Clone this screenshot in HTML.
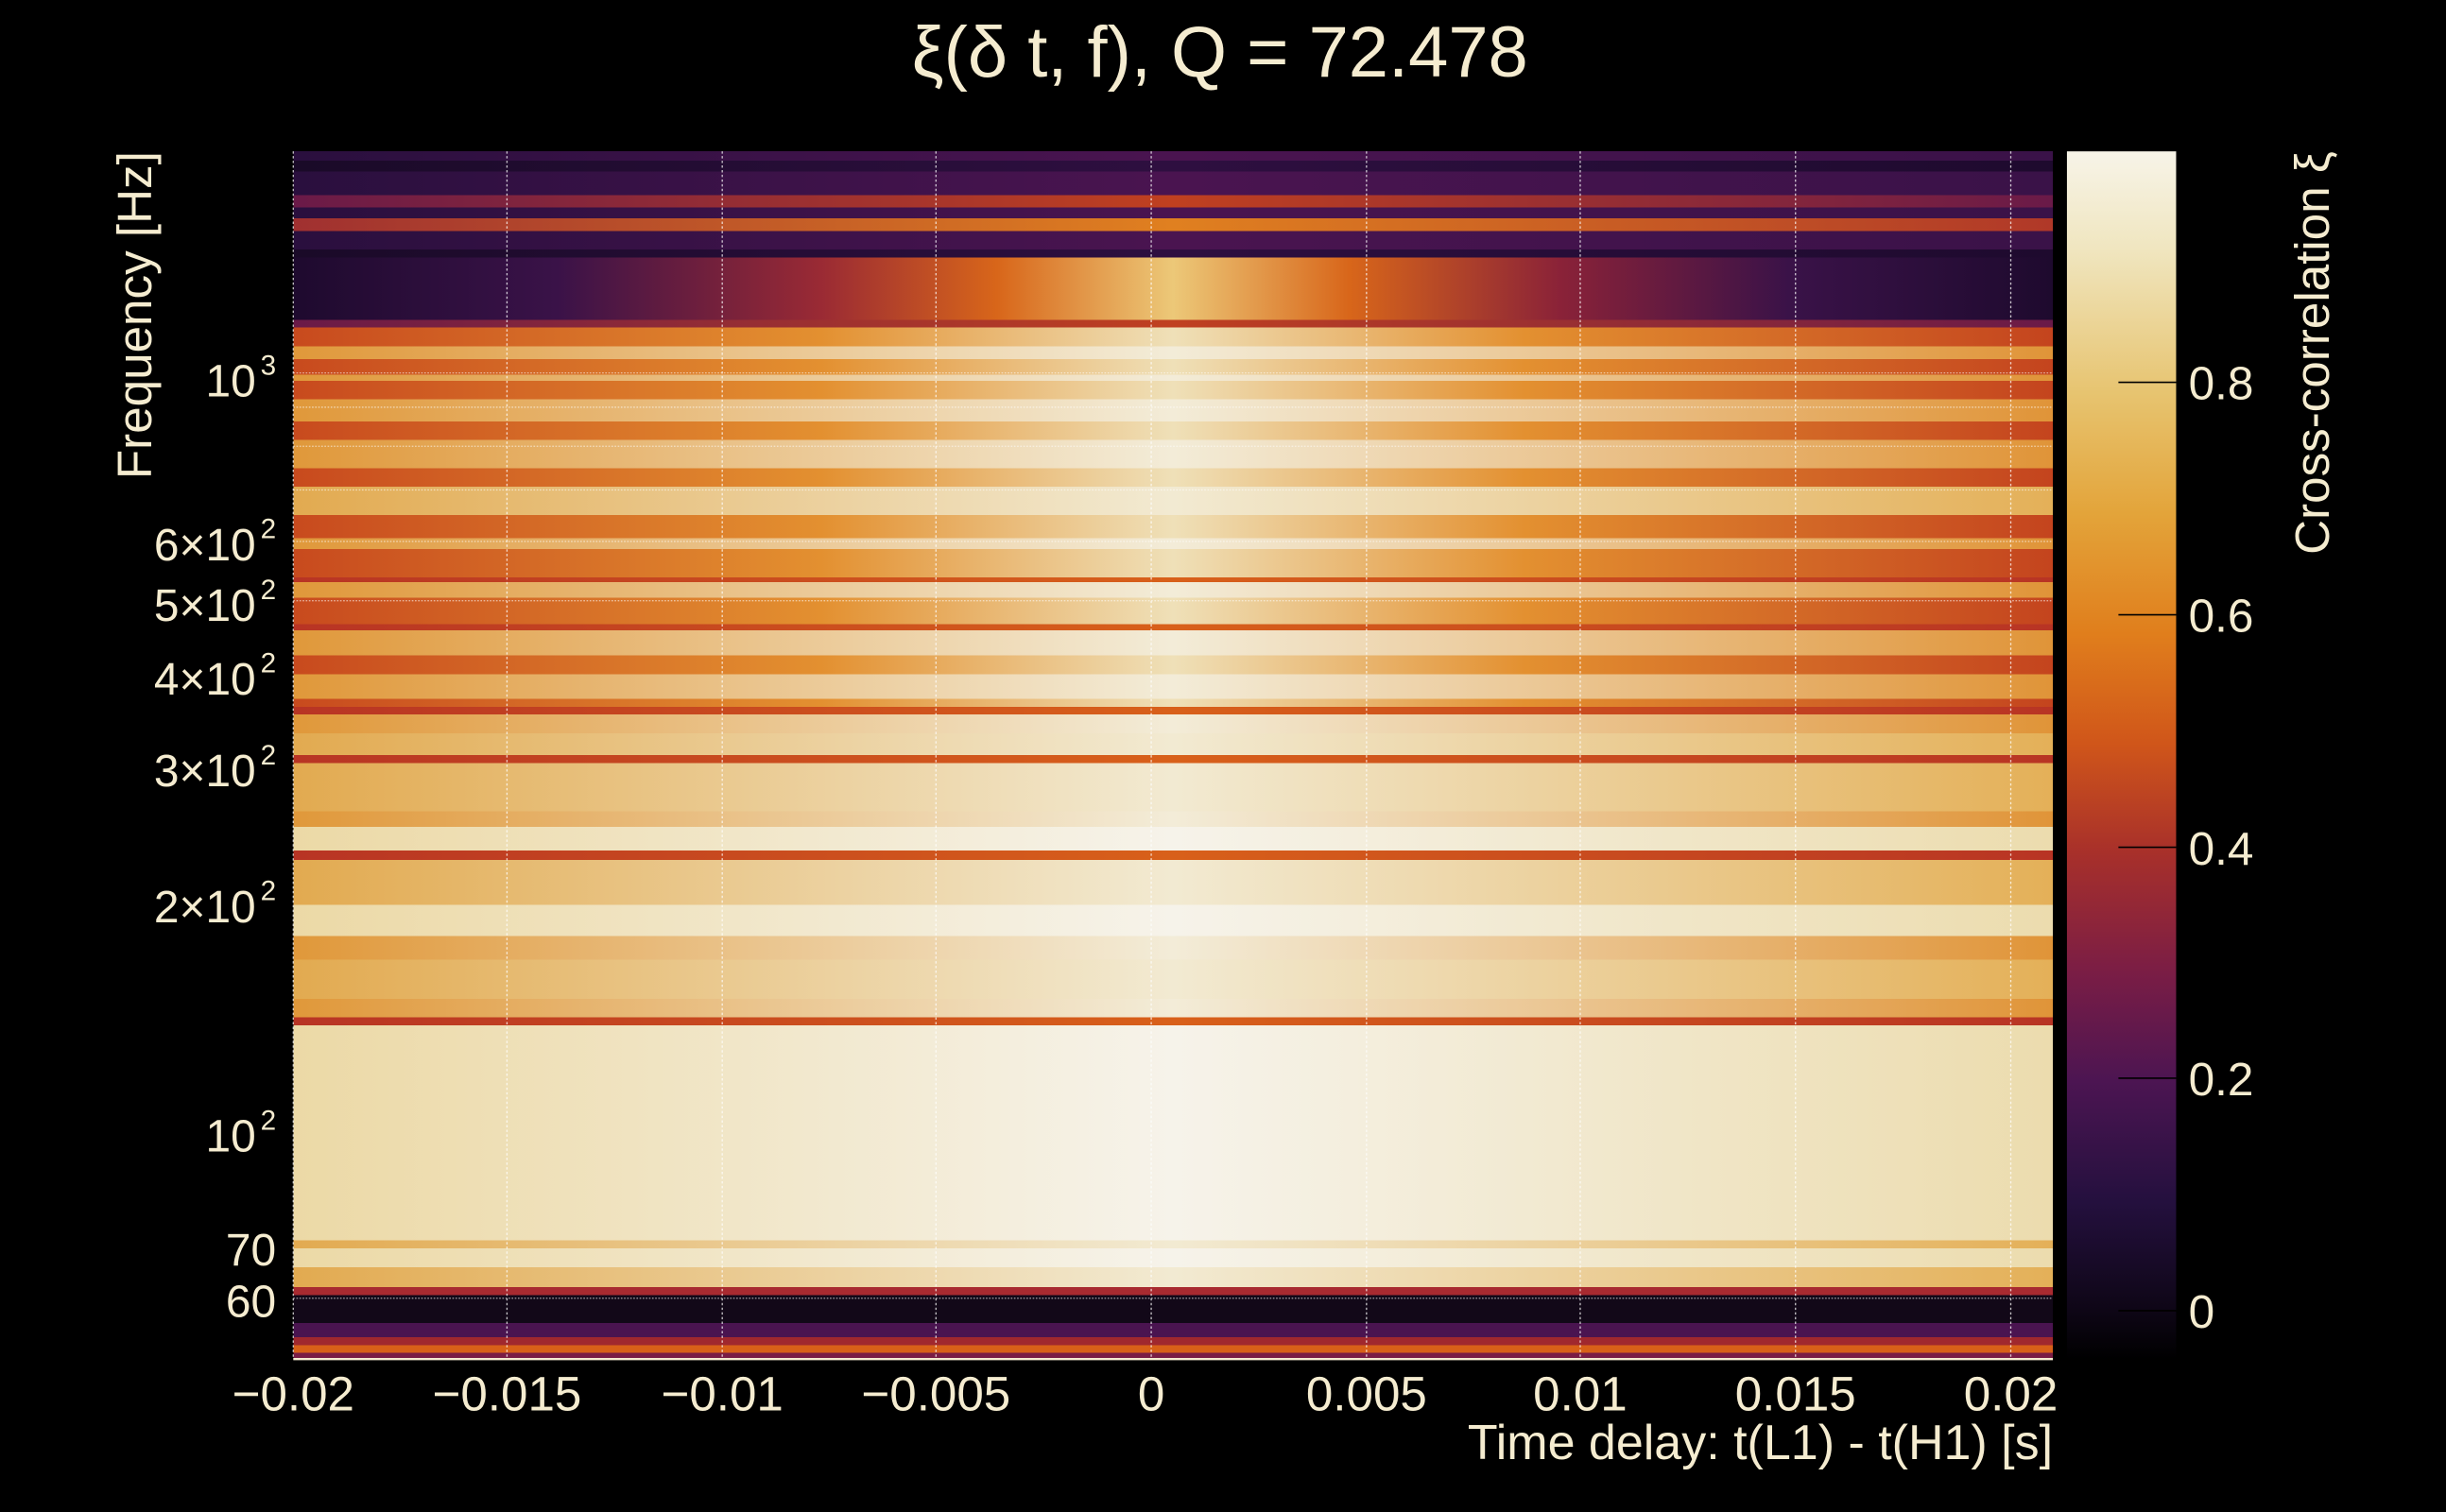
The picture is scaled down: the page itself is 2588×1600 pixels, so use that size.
<!DOCTYPE html>
<html><head><meta charset="utf-8"><style>
html,body{margin:0;padding:0;background:#000;}
svg{display:block;}
text{font-family:"Liberation Sans",sans-serif;fill:#f5ecd0;}
</style></head><body>
<svg width="2588" height="1600" viewBox="0 0 1568 969" preserveAspectRatio="none" xmlns="http://www.w3.org/2000/svg">
<defs>
<linearGradient id="gP" x1="0" x2="1"><stop offset="0" stop-color="#2a0f3e"/><stop offset="0.5" stop-color="#4a1450"/><stop offset="1" stop-color="#3a1248"/></linearGradient>
<linearGradient id="gD" x1="0" x2="1"><stop offset="0" stop-color="#1a0a28"/><stop offset="0.5" stop-color="#2e0f40"/><stop offset="1" stop-color="#1e0a2e"/></linearGradient>
<linearGradient id="gBlob" x1="0" x2="1"><stop offset="0" stop-color="#1e0a2e"/><stop offset="0.15" stop-color="#3a1248"/><stop offset="0.3" stop-color="#9a2a34"/><stop offset="0.4" stop-color="#d8661a"/><stop offset="0.5" stop-color="#ecc878"/><stop offset="0.6" stop-color="#d8661a"/><stop offset="0.72" stop-color="#8a2238"/><stop offset="0.85" stop-color="#3a1248"/><stop offset="1" stop-color="#1e0a2e"/></linearGradient>
<linearGradient id="gRT" x1="0" x2="1"><stop offset="0" stop-color="#a03030"/><stop offset="0.5" stop-color="#e08020"/><stop offset="1" stop-color="#b03828"/></linearGradient>
<linearGradient id="gRP" x1="0" x2="1"><stop offset="0" stop-color="#6a1a48"/><stop offset="0.5" stop-color="#c04020"/><stop offset="1" stop-color="#6a1a48"/></linearGradient>
<linearGradient id="gO1" x1="0" x2="1"><stop offset="0" stop-color="#c84a1e"/><stop offset="0.3" stop-color="#e39030"/><stop offset="0.5" stop-color="#efe0b8"/><stop offset="0.7" stop-color="#e39030"/><stop offset="1" stop-color="#c4441e"/></linearGradient>
<linearGradient id="gO2" x1="0" x2="1"><stop offset="0" stop-color="#e0983a"/><stop offset="0.5" stop-color="#f3ecd8"/><stop offset="1" stop-color="#e09438"/></linearGradient>
<linearGradient id="gC" x1="0" x2="1"><stop offset="0" stop-color="#ecd9a6"/><stop offset="0.5" stop-color="#f6f3ea"/><stop offset="1" stop-color="#ecdcae"/></linearGradient>
<linearGradient id="gC2" x1="0" x2="1"><stop offset="0" stop-color="#e2aa50"/><stop offset="0.5" stop-color="#f2ead2"/><stop offset="1" stop-color="#e4b058"/></linearGradient>
<linearGradient id="gL" x1="0" x2="1"><stop offset="0" stop-color="#b83424"/><stop offset="0.5" stop-color="#d8601a"/><stop offset="1" stop-color="#b83424"/></linearGradient>
<linearGradient id="cb" x1="0" y1="0" x2="0" y2="1">
<stop offset="0" stop-color="#f7f4e8"/>
<stop offset="0.08" stop-color="#f0e6c0"/>
<stop offset="0.2" stop-color="#e7c470"/>
<stop offset="0.3" stop-color="#e3a43a"/>
<stop offset="0.4" stop-color="#e07e1c"/>
<stop offset="0.49" stop-color="#d0561a"/>
<stop offset="0.58" stop-color="#a8302a"/>
<stop offset="0.68" stop-color="#7a1d45"/>
<stop offset="0.77" stop-color="#4c1552"/>
<stop offset="0.87" stop-color="#24103e"/>
<stop offset="0.96" stop-color="#0e0616"/>
<stop offset="1" stop-color="#000"/>
</linearGradient>
</defs>
<g shape-rendering="crispEdges">
<rect x="188" y="97" width="1128" height="6" fill="url(#gP)"/>
<rect x="188" y="103" width="1128" height="7" fill="url(#gD)"/>
<rect x="188" y="110" width="1128" height="15" fill="url(#gP)"/>
<rect x="188" y="125" width="1128" height="8" fill="url(#gRP)"/>
<rect x="188" y="133" width="1128" height="7" fill="url(#gP)"/>
<rect x="188" y="140" width="1128" height="8" fill="url(#gRT)"/>
<rect x="188" y="148" width="1128" height="12" fill="url(#gP)"/>
<rect x="188" y="160" width="1128" height="5" fill="url(#gD)"/>
<rect x="188" y="165" width="1128" height="40" fill="url(#gBlob)"/>
<rect x="188" y="205" width="1128" height="5" fill="url(#gRP)"/>
<rect x="188" y="210" width="1128" height="12" fill="url(#gO1)"/>
<rect x="188" y="222" width="1128" height="8" fill="url(#gO2)"/>
<rect x="188" y="230" width="1128" height="10" fill="url(#gO1)"/>
<rect x="188" y="240" width="1128" height="4" fill="url(#gO2)"/>
<rect x="188" y="244" width="1128" height="12" fill="url(#gO1)"/>
<rect x="188" y="256" width="1128" height="14" fill="url(#gO2)"/>
<rect x="188" y="270" width="1128" height="12" fill="url(#gO1)"/>
<rect x="188" y="282" width="1128" height="18" fill="url(#gO2)"/>
<rect x="188" y="300" width="1128" height="12" fill="url(#gO1)"/>
<rect x="188" y="312" width="1128" height="18" fill="url(#gC2)"/>
<rect x="188" y="330" width="1128" height="15" fill="url(#gO1)"/>
<rect x="188" y="345" width="1128" height="7" fill="url(#gO2)"/>
<rect x="188" y="352" width="1128" height="18" fill="url(#gO1)"/>
<rect x="188" y="370" width="1128" height="3" fill="url(#gL)"/>
<rect x="188" y="373" width="1128" height="10" fill="url(#gO2)"/>
<rect x="188" y="383" width="1128" height="17" fill="url(#gO1)"/>
<rect x="188" y="400" width="1128" height="4" fill="url(#gL)"/>
<rect x="188" y="404" width="1128" height="16" fill="url(#gO2)"/>
<rect x="188" y="420" width="1128" height="12" fill="url(#gO1)"/>
<rect x="188" y="432" width="1128" height="16" fill="url(#gO2)"/>
<rect x="188" y="448" width="1128" height="5" fill="url(#gO1)"/>
<rect x="188" y="453" width="1128" height="5" fill="url(#gL)"/>
<rect x="188" y="458" width="1128" height="12" fill="url(#gO2)"/>
<rect x="188" y="470" width="1128" height="14" fill="url(#gC2)"/>
<rect x="188" y="484" width="1128" height="5" fill="url(#gL)"/>
<rect x="188" y="489" width="1128" height="31" fill="url(#gC2)"/>
<rect x="188" y="520" width="1128" height="10" fill="url(#gO2)"/>
<rect x="188" y="530" width="1128" height="15" fill="url(#gC)"/>
<rect x="188" y="545" width="1128" height="6" fill="url(#gL)"/>
<rect x="188" y="551" width="1128" height="29" fill="url(#gC2)"/>
<rect x="188" y="580" width="1128" height="20" fill="url(#gC)"/>
<rect x="188" y="600" width="1128" height="15" fill="url(#gO2)"/>
<rect x="188" y="615" width="1128" height="25" fill="url(#gC2)"/>
<rect x="188" y="640" width="1128" height="12" fill="url(#gO2)"/>
<rect x="188" y="652" width="1128" height="5" fill="url(#gL)"/>
<rect x="188" y="657" width="1128" height="138" fill="url(#gC)"/>
<rect x="188" y="795" width="1128" height="5" fill="url(#gC2)"/>
<rect x="188" y="800" width="1128" height="12" fill="url(#gC)"/>
<rect x="188" y="812" width="1128" height="13" fill="url(#gC2)"/>
<rect x="188" y="825" width="1128" height="5" fill="#a82a30"/>
<rect x="188" y="830" width="1128" height="18" fill="#120818"/>
<rect x="188" y="848" width="1128" height="9" fill="#4a1450"/>
<rect x="188" y="857" width="1128" height="5" fill="#a0282e"/>
<rect x="188" y="862" width="1128" height="5" fill="#d86018"/>
<rect x="188" y="867" width="1128" height="4" fill="#7a1d45"/>
</g>
<g stroke="#ffffff" stroke-width="0.8" stroke-dasharray="1.5,1.5" opacity="0.75">
<line x1="188" y1="97" x2="188" y2="871"/><line x1="325" y1="97" x2="325" y2="871"/><line x1="463" y1="97" x2="463" y2="871"/><line x1="600" y1="97" x2="600" y2="871"/><line x1="738" y1="97" x2="738" y2="871"/><line x1="876" y1="97" x2="876" y2="871"/><line x1="1013" y1="97" x2="1013" y2="871"/><line x1="1151" y1="97" x2="1151" y2="871"/><line x1="1289" y1="97" x2="1289" y2="871"/>
</g>
<g stroke="#ffffff" stroke-width="0.8" stroke-dasharray="1,1" opacity="0.55">
<line x1="188" y1="239" x2="1316" y2="239"/><line x1="188" y1="261" x2="1316" y2="261"/><line x1="188" y1="286" x2="1316" y2="286"/><line x1="188" y1="314" x2="1316" y2="314"/><line x1="188" y1="347" x2="1316" y2="347"/><line x1="188" y1="385" x2="1316" y2="385"/><line x1="188" y1="832" x2="1316" y2="832"/>
</g>
<line x1="188" y1="871" x2="1316" y2="871" stroke="#f5ecd0" stroke-width="1.5"/>
<rect x="1325" y="97" width="70" height="774" fill="url(#cb)"/>
<g stroke="#000" stroke-width="1"><line x1="1358" y1="245" x2="1395" y2="245"/><line x1="1358" y1="394" x2="1395" y2="394"/><line x1="1358" y1="543" x2="1395" y2="543"/><line x1="1358" y1="691" x2="1395" y2="691"/><line x1="1358" y1="840" x2="1395" y2="840"/></g>
<text x="782" y="49" font-size="46" text-anchor="middle">ξ(δ t, f), Q = 72.478</text>
<g font-size="31" text-anchor="middle">
<text x="188" y="904">−0.02</text><text x="325" y="904">−0.015</text><text x="463" y="904">−0.01</text><text x="600" y="904">−0.005</text><text x="738" y="904">0</text><text x="876" y="904">0.005</text><text x="1013" y="904">0.01</text><text x="1151" y="904">0.015</text><text x="1289" y="904">0.02</text>
</g>
<text x="1316" y="935" font-size="31.5" text-anchor="end">Time delay: t(L1) - t(H1) [s]</text>
<g font-size="29" text-anchor="end">
<text x="164" y="254">10</text><text x="177" y="240" font-size="18">3</text>
<text x="164" y="359">6×10</text><text x="177" y="345" font-size="18">2</text>
<text x="164" y="398">5×10</text><text x="177" y="384" font-size="18">2</text>
<text x="164" y="445">4×10</text><text x="177" y="431" font-size="18">2</text>
<text x="164" y="504">3×10</text><text x="177" y="490" font-size="18">2</text>
<text x="164" y="591">2×10</text><text x="177" y="577" font-size="18">2</text>
<text x="164" y="738">10</text><text x="177" y="724" font-size="18">2</text>
<text x="177" y="811">70</text>
<text x="177" y="844">60</text>
</g>
<text transform="translate(97,97) rotate(-90)" font-size="31" text-anchor="end">Frequency [Hz]</text>
<g font-size="30">
<text x="1403" y="256">0.8</text><text x="1403" y="405">0.6</text><text x="1403" y="554">0.4</text><text x="1403" y="702">0.2</text><text x="1403" y="851">0</text>
</g>
<text transform="translate(1493,97) rotate(-90)" font-size="31" text-anchor="end">Cross-correlation ξ</text>
</svg>
</body></html>
